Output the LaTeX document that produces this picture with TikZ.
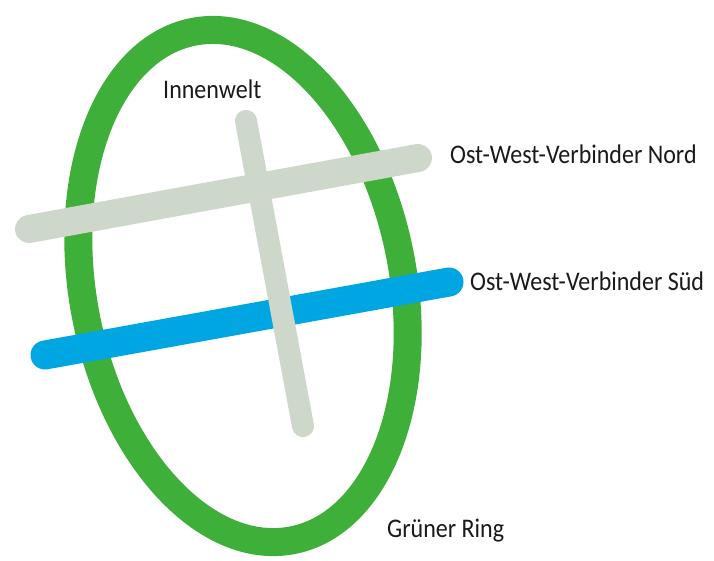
\documentclass[tikz,border=0pt]{standalone}
\usepackage{fontspec}
\setmainfont{Carlito}
\definecolor{ringgreen}{RGB}{62,176,58}
\definecolor{bargray}{RGB}{206,216,202}
\definecolor{barblue}{RGB}{0,166,226}
\definecolor{txt}{RGB}{26,26,26}
\newcommand{\tallish}[1]{\scalebox{1}[1.12]{#1}}
\begin{document}
\begin{tikzpicture}[x=1pt,y=-1pt,
  ring/.style={draw=ringgreen,line width=28pt},
  road/.style={line width=28pt,line cap=round},
  label/.style={anchor=base west,inner sep=0pt,text=txt,font=\fontsize{24}{24}\selectfont}]
\useasboundingbox (0,0) rectangle (714,560);
\fill[white] (0,0) rectangle (714,560);
% green ring
\draw[ring,rotate around={11:(243,286)}] (243,286) ellipse [x radius=160, y radius=259];
% blue south connector
\coordinate (s1) at (45,355);
\coordinate (s2) at (449,282);
\draw[road,draw=barblue,line width=29pt] (s1) -- (s2);
% gray north connector and inner link
\coordinate (n1) at (29,229);
\coordinate (n2) at (418,158);
\coordinate (v1) at (246,121);
\coordinate (v2) at (303,426);
\draw[road,draw=bargray] (n1) -- (n2);
\draw[road,draw=bargray,line width=22pt] (v1) -- (v2);
% labels
\node[label] (inn) at (163,98) {\tallish{Innenwelt}};
\node[label] (nord) at (450,163) {\tallish{Ost-West-Verbinder Nord}};
\node[label] (sued) at (470,290) {\tallish{Ost-West-Verbinder Süd}};
\node[label] (ring) at (387,537) {\tallish{Grüner Ring}};
\end{tikzpicture}
\end{document}
